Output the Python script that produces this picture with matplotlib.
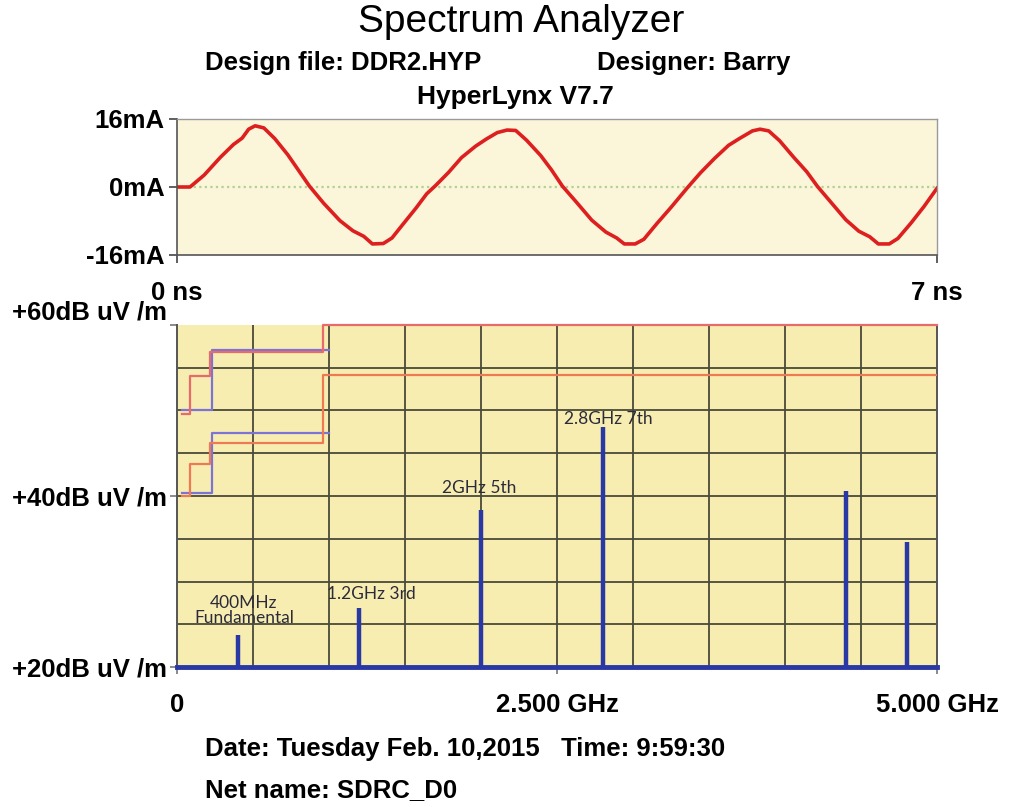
import matplotlib
matplotlib.use("Agg")
import matplotlib.pyplot as plt

plt.rcParams['font.family'] = ['Liberation Sans', 'DejaVu Sans']

# probe current, time in ns / current in mA
t_ns = [0.00, 0.12, 0.25, 0.40, 0.52, 0.60, 0.66, 0.72, 0.80, 0.90, 1.02, 1.12,
        1.22, 1.35, 1.50, 1.62, 1.72, 1.80, 1.90, 1.98, 2.08, 2.20, 2.30, 2.38,
        2.50, 2.62, 2.75, 2.85, 2.95, 3.04, 3.12, 3.22, 3.35, 3.45, 3.55, 3.68,
        3.82, 3.95, 4.05, 4.12, 4.22, 4.30, 4.42, 4.55, 4.70,
        4.82, 4.95, 5.08, 5.18, 5.30, 5.37, 5.45, 5.55, 5.68, 5.80, 5.90, 6.03,
        6.16, 6.28, 6.38, 6.46, 6.56, 6.64, 6.76, 6.88, 7.00]
i_ma = [0.0, 0.0, 2.8, 7.0, 10.0, 11.5, 13.6, 14.4, 13.9, 11.4, 7.6, 3.9,
        0.2, -3.8, -7.9, -10.3, -11.6, -13.4, -13.3, -12.0, -8.8, -5.0, -1.6, 0.3,
        3.4, 6.9, 9.6, 11.3, 12.8, 13.4, 13.3, 11.0, 7.4, 4.0, 0.2, -3.6,
        -7.8, -10.6, -12.0, -13.4, -13.4, -12.3, -8.6, -4.8, -0.2,
        3.3, 6.7, 9.8, 11.4, 13.2, 13.6, 13.2, 10.9, 7.0, 3.6, 0.1, -3.8,
        -7.7, -10.4, -11.7, -13.4, -13.4, -12.1, -8.5, -4.6, -0.3]

# harmonics (GHz, dBuV/m)
harm_f = [0.4, 1.2, 2.0, 2.8, 4.4, 4.8]
harm_db = [23.7, 26.9, 38.4, 48.1, 40.6, 34.6]
harm_labels = ["400MHz\nFundamental", "1.2GHz 3rd", "2GHz 5th", "2.8GHz 7th"]

# emission limit steps
fcc_a_f = [0.03, 0.088, 0.216, 0.96, 5.0]
fcc_a_db = [49.6, 54.0, 56.9, 60.0, 60.0]
cispr_a_f = [0.03, 0.23, 1.0]
cispr_a_db = [50.0, 57.1, 57.1]
fcc_b_f = [0.03, 0.088, 0.216, 0.96, 5.0]
fcc_b_db = [40.0, 43.7, 46.2, 54.1, 54.1]
cispr_b_f = [0.03, 0.23, 1.0]
cispr_b_db = [40.3, 47.4, 47.4]

W, H = 1017, 807
fig = plt.figure(figsize=(W / 100, H / 100), dpi=100)

def box(x0, y0, x1, y1):
    return [x0 / W, 1 - y1 / H, (x1 - x0) / W, (y1 - y0) / H]

lab = dict(fontsize=18.5, fontweight='bold')

# --- time domain panel ---
ax1 = fig.add_axes(box(177, 119, 937, 255))
ax1.set_facecolor('#fbf5da')
ax1.axhline(0, color='#b0d392', lw=1.6, ls=(0, (1, 1.5)))
ax1.plot(t_ns, i_ma, color='#dd1f1f', lw=2.6)
ax1.set_xlim(0, 7)
ax1.set_ylim(-16, 16)
ax1.set_yticks([16, 0, -16])
ax1.set_yticklabels(['16mA', '0mA', '-16mA'], **lab)
ax1.set_xticks([0, 7])
ax1.set_xticklabels([])
ax1.tick_params(direction='out', length=6, width=1.2, color='#444444', pad=3)
for s in ['left', 'bottom']:
    ax1.spines[s].set_color('#555555')
    ax1.spines[s].set_linewidth(1.2)
for s in ['top', 'right']:
    ax1.spines[s].set_color('#9a9a9a')
    ax1.spines[s].set_linewidth(1.0)
ax1.text(0, -0.28, '0 ns', transform=ax1.transAxes, ha='center', va='center', **lab)
ax1.text(1, -0.28, '7 ns', transform=ax1.transAxes, ha='center', va='center', **lab)

# --- spectrum panel ---
ax2 = fig.add_axes(box(177, 325, 937, 667))
ax2.set_facecolor('#f8edb0')
ax2.set_xlim(0, 5)
ax2.set_ylim(20, 60)
for gx in [0.5 * k for k in range(1, 10)]:
    ax2.axvline(gx, color='#4a4a38', lw=1.3, zorder=1)
for gy in range(25, 60, 5):
    ax2.axhline(gy, color='#4a4a38', lw=1.3, zorder=1)

ax2.step(cispr_a_f, cispr_a_db, where='post', color='#7b74d6', lw=1.6, zorder=2)
ax2.step(cispr_b_f, cispr_b_db, where='post', color='#7b74d6', lw=1.6, zorder=2)
ax2.step(fcc_a_f, fcc_a_db, where='post', color='#e86a6a', lw=1.6, zorder=3, clip_on=False)
ax2.step(fcc_b_f, fcc_b_db, where='post', color='#ee7a55', lw=1.6, zorder=3)

ax2.axhline(20, color='#2a38a6', lw=3.5, zorder=4, clip_on=False)
ax2.vlines(harm_f, 20, harm_db, color='#2a38a6', lw=3.2, zorder=4)

note = dict(family=['Lato', 'DejaVu Sans'], fontsize=12.5, color='#2b2b3b',
            ha='center', va='center', linespacing=0.95, zorder=5)
ax2.text(0.44, 26.6, harm_labels[0], **note)
ax2.text(1.28, 28.5, harm_labels[1], **note)
ax2.text(1.99, 40.9, harm_labels[2], **note)
ax2.text(2.84, 49.0, harm_labels[3], **note)

ax2.set_yticks([20, 40, 60])
ax2.set_yticklabels(['+20dB uV /m', '+40dB uV /m', '+60dB uV /m'], **lab)
ax2.get_yticklabels()[2].set_va('bottom')
ax2.set_xticks([0, 2.5, 5])
ax2.set_xticklabels(['0', '2.500 GHz', '5.000 GHz'], **lab)
ax2.tick_params(axis='y', direction='out', length=5, width=1.2, color='#777777', pad=2)
ax2.tick_params(axis='x', direction='out', length=5, width=1.2, color='#777777', pad=14)
ax2.spines['left'].set_color('#555555')
ax2.spines['left'].set_linewidth(1.4)
ax2.spines['right'].set_color('#555555')
ax2.spines['right'].set_linewidth(1.4)
ax2.spines['top'].set_visible(False)
ax2.spines['bottom'].set_visible(False)

# --- header and footer ---
fig.text(521 / W, 1 - 22 / H, 'Spectrum Analyzer', fontsize=28, ha='center', va='center')
fig.text(205 / W, 1 - 63 / H, 'Design file: DDR2.HYP', fontsize=18.5, fontweight='bold', va='center')
fig.text(597 / W, 1 - 63 / H, 'Designer: Barry', fontsize=18.5, fontweight='bold', va='center')
fig.text(515 / W, 1 - 97 / H, 'HyperLynx V7.7', fontsize=19, fontweight='bold', ha='center', va='center')
fig.text(205 / W, 1 - 749 / H, 'Date: Tuesday Feb. 10,2015   Time: 9:59:30', fontsize=18.5,
         fontweight='bold', va='center')
fig.text(205 / W, 1 - 790 / H, 'Net name: SDRC_D0', fontsize=18.5, fontweight='bold', va='center')

fig.savefig('out.png', dpi=100, facecolor='white')
